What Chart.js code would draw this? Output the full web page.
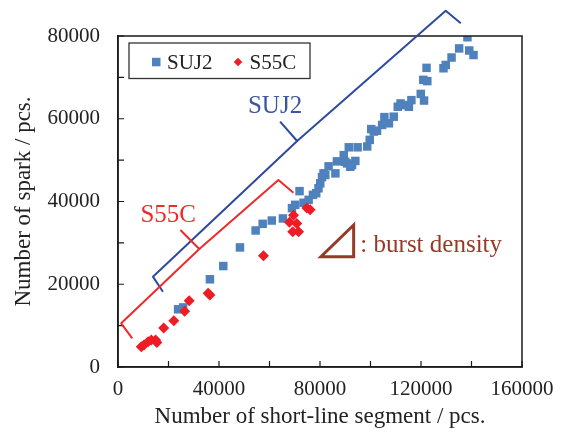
<!DOCTYPE html>
<html>
<head>
<meta charset="utf-8">
<script src="https://cdn.jsdelivr.net/npm/chart.js@4.4.1/dist/chart.umd.min.js"></script>
<style>
  html, body { margin: 0; padding: 0; background: #fff; }
  #wrap { width: 565px; height: 432px; }
</style>
</head>
<body>
<div id="wrap"><canvas id="grafico" width="565" height="432"></canvas></div>
<script>
const serif = "'Liberation Serif', 'Times New Roman', serif";

// SUJ2 (blue squares)
const suj2X = [23800, 25800, 36400, 41700, 48300, 54500, 57300, 60900, 65300, 68900,
    70200, 71900, 73500, 75500, 77200, 78500, 79400, 80100, 80800, 81400,
    82100, 83400, 86100, 86700, 89400, 90000, 90700, 91400, 92000, 92700,
    94000, 94900, 98700, 99700, 100300, 101300, 102600, 104600, 105500, 107300,
    109200, 110800, 111900, 113200, 115200, 116200, 119900, 121200, 120900, 122500,
    122200, 128900, 129800, 132100, 135100, 139100, 138400, 140800];
const suj2Y = [13950, 14400, 21200, 24400, 28900, 33000, 34600, 35400, 35900, 38400,
    39200, 42500, 39700, 40400, 41600, 42000, 43200, 44400, 45900, 46800,
    46400, 48500, 46800, 49700, 51200, 49600, 49200, 53100, 48400, 48800,
    49800, 53100, 53300, 54900, 57500, 56900, 57100, 58500, 60400, 58900,
    60500, 62900, 63700, 63300, 62900, 64500, 66000, 64400, 69400, 69100,
    72300, 72200, 73000, 74800, 77000, 76500, 79700, 75400];

// S55C (red diamonds)
const s55cX = [9200, 10300, 11900, 13200, 14900, 15400, 18100, 22100, 26400, 28200,
    35700, 36400, 57600, 67900, 69500, 70800, 69200, 71500, 74800, 76100];
const s55cY = [4900, 5300, 6100, 6500, 6500, 5900, 9400, 11200, 13500, 16000,
    17800, 17400, 26900, 35000, 36700, 34700, 32700, 32700, 38400, 38000];

const xTicks = [0, 40000, 80000, 120000, 160000];
const yTicks = [0, 20000, 40000, 60000, 80000];

// annotation shapes, in axis units
const braceSuj2Low = [[17800, 18200], [13830, 21830], [70950, 54620], [64200, 59290]];
const braceSuj2High = [[70950, 54620], [129800, 86120], [135740, 83070]];
const braceS55cLow = [[5640, 6940], [1270, 10560], [32200, 28520], [24720, 33110]];
const braceS55cHigh = [[32200, 28520], [63520, 45200], [69480, 42130]];
const triangle = [[80370, 26660], [93330, 26660], [93330, 34320]];

const toPoints = (xs, ys) => xs.map((v, i) => ({ x: v, y: ys[i] }));

const extras = {
    id: 'extras',
    afterDraw(chart) {
        const { ctx, chartArea: a, scales } = chart;
        const sx = scales.x, sy = scales.y;
        const px = p => [sx.getPixelForValue(p[0]), sy.getPixelForValue(p[1])];

        ctx.save();
        // frame
        ctx.strokeStyle = '#1a1a1a';
        ctx.lineWidth = 1.5;
        ctx.strokeRect(a.left, a.top, a.right - a.left, a.bottom - a.top);

        // inward ticks
        ctx.lineWidth = 1.2;
        ctx.beginPath();
        sx.ticks.forEach(t => {
            const x = sx.getPixelForValue(t.value);
            ctx.moveTo(x, a.bottom);
            ctx.lineTo(x, a.bottom - 6);
        });
        sy.ticks.forEach(t => {
            const y = sy.getPixelForValue(t.value);
            ctx.moveTo(a.left, y);
            ctx.lineTo(a.left + 6, y);
        });
        ctx.stroke();

        // legend
        const lx = a.left + 11, ly = a.top + 7;
        ctx.lineWidth = 1.3;
        ctx.strokeStyle = '#333';
        ctx.strokeRect(lx, ly, 181, 35.5);
        ctx.font = '21px ' + serif;
        ctx.textBaseline = 'middle';
        ctx.fillStyle = '#222';
        const my = ly + 19;
        const ds = chart.data.datasets;
        ctx.fillStyle = ds[0].backgroundColor;
        ctx.fillRect(lx + 23, my - 4.2, 8.5, 8.5);
        ctx.fillStyle = '#222';
        ctx.fillText(ds[0].label, lx + 38, my + 1);
        ctx.fillStyle = ds[1].backgroundColor;
        ctx.beginPath();
        ctx.moveTo(lx + 109, my - 4.3);
        ctx.lineTo(lx + 113.3, my);
        ctx.lineTo(lx + 109, my + 4.3);
        ctx.lineTo(lx + 104.7, my);
        ctx.closePath();
        ctx.fill();
        ctx.fillStyle = '#222';
        ctx.fillText(ds[1].label, lx + 120.5, my + 1);

        // braces
        const path = (pts, color) => {
            ctx.strokeStyle = color;
            ctx.lineWidth = 2;
            ctx.lineJoin = 'round';
            ctx.beginPath();
            pts.forEach((p, i) => {
                const q = px(p);
                if (i === 0) ctx.moveTo(q[0], q[1]); else ctx.lineTo(q[0], q[1]);
            });
            ctx.stroke();
        };
        path(braceSuj2Low, '#2d4a9c');
        path(braceSuj2High, '#2d4a9c');
        path(braceS55cLow, '#ee2a2a');
        path(braceS55cHigh, '#ee2a2a');

        ctx.font = '25px ' + serif;
        ctx.textAlign = 'center';
        ctx.textBaseline = 'middle';
        let q = px([62200, 63080]);
        ctx.fillStyle = '#3b55a3';
        ctx.fillText('SUJ2', q[0], q[1]);
        q = px([19900, 36740]);
        ctx.fillStyle = '#ee2a2a';
        ctx.fillText('S55C', q[0], q[1]);

        // burst density marker
        ctx.strokeStyle = '#953a26';
        ctx.lineWidth = 3;
        ctx.lineJoin = 'miter';
        ctx.beginPath();
        triangle.forEach((p, i) => {
            const r = px(p);
            if (i === 0) ctx.moveTo(r[0], r[1]); else ctx.lineTo(r[0], r[1]);
        });
        ctx.closePath();
        ctx.stroke();
        q = px([95990, 27870]);
        ctx.fillStyle = '#953a26';
        ctx.textAlign = 'left';
        ctx.textBaseline = 'alphabetic';
        ctx.fillText(': burst density', q[0], q[1]);
        ctx.restore();
    }
};

const ctx = document.getElementById('grafico').getContext('2d');
new Chart(ctx, {
    type: 'scatter',
    data: {
        datasets: [
            {
                label: 'SUJ2',
                data: toPoints(suj2X, suj2Y),
                pointStyle: 'rect',
                pointRadius: 6,
                pointHoverRadius: 6,
                backgroundColor: '#4f81bd',
                borderWidth: 0,
                order: 1
            },
            {
                label: 'S55C',
                data: toPoints(s55cX, s55cY),
                pointStyle: 'rectRot',
                pointRadius: 5.5,
                pointHoverRadius: 5.5,
                backgroundColor: '#ee1c25',
                borderWidth: 0,
                order: 0
            }
        ]
    },
    options: {
        responsive: false,
        animation: false,
        layout: { padding: { left: 0, right: 43, top: 36, bottom: 0 } },
        plugins: {
            legend: { display: false },
            tooltip: { enabled: false }
        },
        scales: {
            x: {
                type: 'linear',
                min: 0,
                max: 160000,
                afterFit: s => { s.height = 65; },
                grid: { display: false, drawTicks: false },
                border: { display: true, color: '#1a1a1a', width: 1.5 },
                ticks: {
                    stepSize: 20000,
                    autoSkip: false,
                    maxRotation: 0,
                    padding: 10,
                    color: '#222',
                    font: { family: serif, size: 21 },
                    callback: v => xTicks.includes(v) ? String(v) : ''
                },
                title: {
                    display: true,
                    text: 'Number of short-line segment / pcs.',
                    color: '#222',
                    font: { family: serif, size: 23 },
                    padding: { top: 0, bottom: 1 }
                }
            },
            y: {
                type: 'linear',
                min: 0,
                max: 80000,
                afterFit: s => { s.width = 118; },
                grid: { display: false, drawTicks: false },
                border: { display: true, color: '#1a1a1a', width: 1.5 },
                ticks: {
                    stepSize: 10000,
                    autoSkip: false,
                    padding: 18,
                    color: '#222',
                    font: { family: serif, size: 21 },
                    callback: v => yTicks.includes(v) ? String(v) : ''
                },
                title: {
                    display: true,
                    text: 'Number of spark / pcs.',
                    color: '#222',
                    font: { family: serif, size: 23 },
                    padding: { top: 10, bottom: 0 }
                }
            }
        }
    },
    plugins: [extras]
});
</script>
</body>
</html>
